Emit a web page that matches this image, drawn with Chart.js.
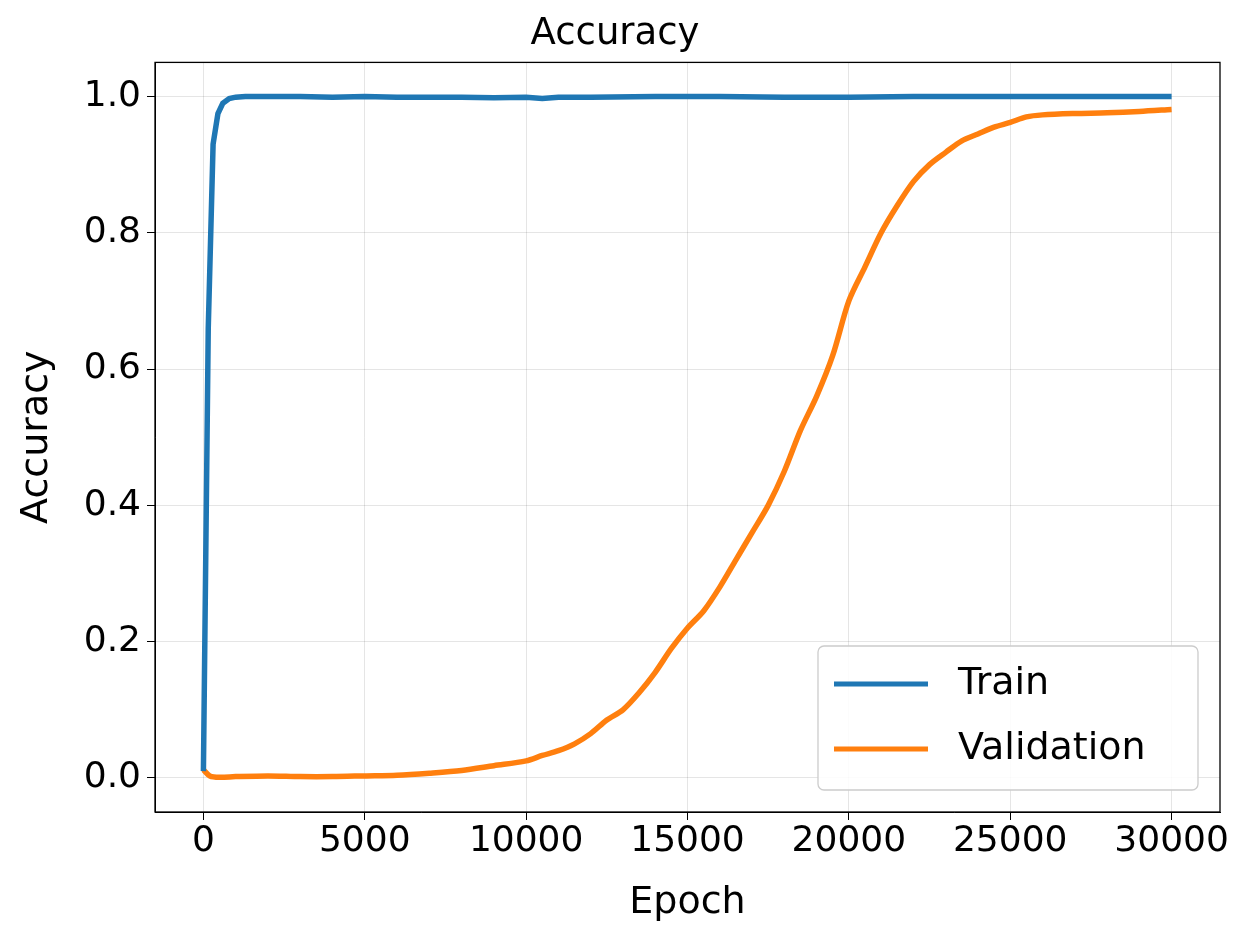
<!DOCTYPE html>
<html><head><meta charset="utf-8">
<script src="https://cdn.jsdelivr.net/npm/chart.js@4"></script>
<style>body{margin:0;background:#fff}#w{width:1260px;height:940px}</style>
</head><body><div id="w"><canvas id="c"></canvas></div>
<script>
const trainX=[0,150,300,450,600,800,1000,1300,2000,3000,4000,5000,6000,7000,8000,9000,10000,10500,11000,12000,14000,16000,18000,20000,22000,24000,26000,28000,30000];
const trainY=[0.01,0.66,0.93,0.975,0.99,0.997,0.999,1.0,1.0,1.0,0.999,1.0,0.999,0.999,0.999,0.998,0.999,0.997,0.999,0.999,1.0,1.0,0.999,0.999,1.0,1.0,1.0,1.0,1.0];
const valX=[0,200,500,1000,2000,3000,4000,5000,6000,7000,8000,9000,10000,10500,11000,11500,12000,12500,13000,13500,14000,14500,15000,15500,16000,16500,17000,17500,18000,18500,19000,19500,20000,20500,21000,21500,22000,22500,23000,23500,24000,24500,25000,25500,26000,27000,28000,29000,30000];
const valY=[0.012,0.003,0.001,0.002,0.003,0.002,0.002,0.003,0.004,0.007,0.011,0.018,0.025,0.033,0.040,0.05,0.065,0.085,0.10,0.125,0.155,0.19,0.22,0.245,0.28,0.32,0.36,0.40,0.45,0.51,0.56,0.62,0.70,0.75,0.80,0.84,0.875,0.90,0.918,0.935,0.945,0.955,0.962,0.97,0.973,0.975,0.976,0.978,0.981];
const xTicks=[0,5000,10000,15000,20000,25000,30000];
const yTicks=[0,0.2,0.4,0.6,0.8,1.0];
const F='DejaVu Sans';
const frame={id:'frame',afterDraw(ch){const a=ch.chartArea,c=ch.ctx;c.save();c.strokeStyle='#000';c.lineWidth=1.3;c.strokeRect(a.left,a.top,a.right-a.left,a.bottom-a.top);
const bx=a.right-402,by=a.bottom-166,bw=380,bh=144;c.fillStyle='rgba(255,255,255,0.85)';c.strokeStyle='#ccc';c.lineWidth=1.3;
c.beginPath();c.roundRect(bx,by,bw,bh,6);c.fill();c.stroke();
const items=[['Train','#1f77b4'],['Validation','#ff7f0e']];c.font='38px '+F;c.textBaseline='middle';
items.forEach((it,i)=>{const y=by+38+i*65;c.strokeStyle=it[1];c.lineWidth=5;c.beginPath();c.moveTo(bx+16,y);c.lineTo(bx+110,y);c.stroke();c.fillStyle='#000';c.fillText(it[0],bx+140,y);});
c.restore();}};
new Chart(document.getElementById('c'),{type:'line',data:{datasets:[
{data:trainX.map((x,i)=>({x,y:trainY[i]})),borderColor:'#1f77b4',borderWidth:5.5,pointRadius:0,tension:0},
{data:valX.map((x,i)=>({x,y:valY[i]})),borderColor:'#ff7f0e',borderWidth:5.5,pointRadius:0,tension:0.3}]},
options:{responsive:true,maintainAspectRatio:false,animation:false,layout:{padding:{left:10,right:40,top:0,bottom:10}},
plugins:{legend:{display:false},tooltip:{enabled:false},title:{display:true,text:'Accuracy',color:'#000',font:{family:F,size:37,weight:'normal'},padding:{top:12,bottom:6}}},
scales:{x:{type:'linear',min:-1500,max:31500,afterBuildTicks(s){s.ticks=xTicks.map(v=>({value:v}))},afterFit(s){s.height=118},
grid:{color:'rgba(0,0,0,0.1)',tickColor:'#000',tickLength:8},border:{color:'#000'},
ticks:{color:'#000',font:{family:F,size:36},maxRotation:0,padding:0,callback:v=>String(v)},title:{display:true,text:'Epoch',color:'#000',font:{family:F,size:38},padding:{top:0}}},
y:{min:-0.05,max:1.05,afterBuildTicks(s){s.ticks=yTicks.map(v=>({value:v}))},afterFit(s){s.width=145},
grid:{color:'rgba(0,0,0,0.1)',tickColor:'#000',tickLength:8},border:{color:'#000'},
ticks:{color:'#000',font:{family:F,size:36},callback:v=>v.toFixed(1),padding:6},title:{display:true,text:'Accuracy',color:'#000',font:{family:F,size:38},padding:{bottom:0}}}}},
plugins:[frame]});
</script></body></html>
